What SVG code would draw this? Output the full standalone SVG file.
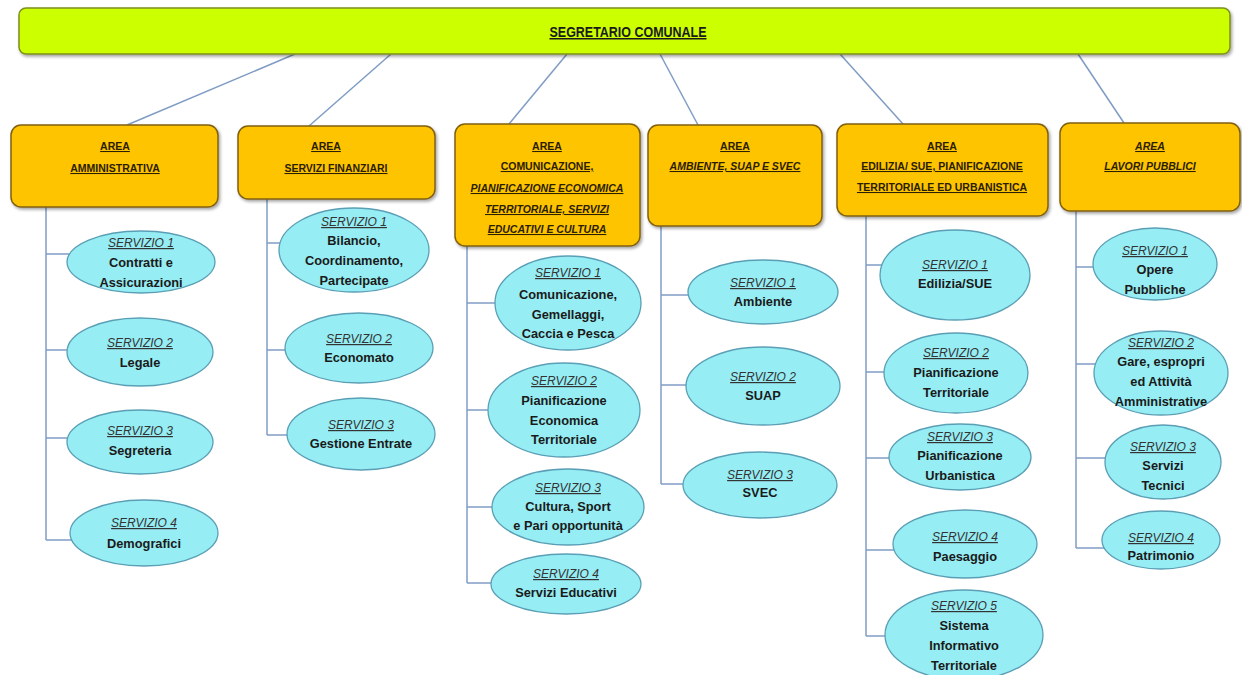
<svg xmlns="http://www.w3.org/2000/svg" width="1242" height="675" viewBox="0 0 1242 675">
<defs>
<filter id="sh" x="-10%" y="-10%" width="120%" height="130%">
<feDropShadow dx="1.5" dy="2" stdDeviation="1.5" flood-color="#000" flood-opacity="0.35"/>
</filter>
<style>
.top{fill:#CCFF00;stroke:#7d8f1e;stroke-width:1.5}
.area{fill:#FFC400;stroke:#806010;stroke-width:1.5}
.srv{fill:#96EDF3;stroke:#5a9fb5;stroke-width:1.3}
.ln{stroke:#7f9cc4;stroke-width:1.5;fill:none}
.tt{font-family:"Liberation Sans",Arial,sans-serif;font-weight:bold;font-size:15px;fill:#1a1a1a;text-decoration:underline;text-anchor:middle}
.at{font-family:"Liberation Sans",Arial,sans-serif;font-weight:bold;font-size:10.5px;fill:#2a2000;text-decoration:underline;text-anchor:middle}
.ai{font-style:italic}
.sh{font-family:"Liberation Sans",Arial,sans-serif;font-style:italic;font-size:12px;fill:#333;text-decoration:underline;text-anchor:middle}
.sb{font-family:"Liberation Sans",Arial,sans-serif;font-weight:bold;font-size:12.8px;fill:#1a1a1a;text-anchor:middle}
</style>
</defs>
<rect width="1242" height="675" fill="#ffffff"/>

<g id="connectors">
<line class="ln" x1="295" y1="54" x2="127" y2="125"/>
<line class="ln" x1="391" y1="54" x2="309" y2="126"/>
<line class="ln" x1="567" y1="54" x2="509" y2="124"/>
<line class="ln" x1="660" y1="54" x2="698" y2="125"/>
<line class="ln" x1="840" y1="54" x2="903" y2="124"/>
<line class="ln" x1="1078" y1="54" x2="1124" y2="123"/>
<polyline class="ln" points="46,207 46,540"/>
<line class="ln" x1="46" y1="254" x2="80" y2="254"/>
<line class="ln" x1="46" y1="350" x2="80" y2="350"/>
<line class="ln" x1="46" y1="438" x2="80" y2="438"/>
<line class="ln" x1="46" y1="540" x2="80" y2="540"/>
<polyline class="ln" points="267,199 267,435"/>
<line class="ln" x1="267" y1="243" x2="295" y2="243"/>
<line class="ln" x1="267" y1="350" x2="295" y2="350"/>
<line class="ln" x1="267" y1="435" x2="297" y2="435"/>
<polyline class="ln" points="467,246 467,583"/>
<line class="ln" x1="467" y1="303" x2="505" y2="303"/>
<line class="ln" x1="467" y1="410" x2="500" y2="410"/>
<line class="ln" x1="467" y1="507" x2="502" y2="507"/>
<line class="ln" x1="467" y1="583" x2="502" y2="583"/>
<polyline class="ln" points="661,226 661,484"/>
<line class="ln" x1="661" y1="295" x2="700" y2="295"/>
<line class="ln" x1="661" y1="385" x2="700" y2="385"/>
<line class="ln" x1="661" y1="484" x2="695" y2="484"/>
<polyline class="ln" points="866,216 866,636"/>
<line class="ln" x1="866" y1="265" x2="895" y2="265"/>
<line class="ln" x1="866" y1="372" x2="895" y2="372"/>
<line class="ln" x1="866" y1="458" x2="900" y2="458"/>
<line class="ln" x1="866" y1="550" x2="905" y2="550"/>
<line class="ln" x1="866" y1="636" x2="895" y2="636"/>
<polyline class="ln" points="1076,211 1076,548"/>
<line class="ln" x1="1076" y1="267" x2="1105" y2="267"/>
<line class="ln" x1="1076" y1="364" x2="1105" y2="364"/>
<line class="ln" x1="1076" y1="458" x2="1115" y2="458"/>
<line class="ln" x1="1076" y1="548" x2="1112" y2="548"/>
</g>

<g id="segretario">
<rect class="top" x="19" y="8" width="1211" height="46" rx="7" filter="url(#sh)"/>
<text class="tt" x="628" y="37" textLength="157" lengthAdjust="spacingAndGlyphs">SEGRETARIO COMUNALE</text>
</g>

<g id="area-amministrativa">
<rect class="area" x="11" y="125" width="207" height="82" rx="10" filter="url(#sh)"/>
<text class="at" x="115" y="150">AREA</text>
<text class="at" x="115" y="172">AMMINISTRATIVA</text>
</g>
<g id="area-finanziari">
<rect class="area" x="238" y="126" width="197" height="73" rx="10" filter="url(#sh)"/>
<text class="at" x="326" y="150">AREA</text>
<text class="at" x="336" y="172">SERVIZI FINANZIARI</text>
</g>
<g id="area-comunicazione">
<rect class="area" x="455" y="124" width="185" height="122" rx="10" filter="url(#sh)"/>
<text class="at" x="547" y="150">AREA</text>
<text class="at" x="547" y="170">COMUNICAZIONE,</text>
<text class="at ai" x="547" y="192">PIANIFICAZIONE ECONOMICA</text>
<text class="at ai" x="547" y="213">TERRITORIALE,  SERVIZI</text>
<text class="at ai" x="547" y="233">EDUCATIVI E CULTURA</text>
</g>
<g id="area-ambiente">
<rect class="area" x="648" y="125" width="174" height="101" rx="10" filter="url(#sh)"/>
<text class="at" x="735" y="150">AREA</text>
<text class="at ai" x="735" y="170">AMBIENTE, SUAP E SVEC</text>
</g>
<g id="area-edilizia">
<rect class="area" x="837" y="124" width="211" height="92" rx="10" filter="url(#sh)"/>
<text class="at" x="942" y="150">AREA</text>
<text class="at" x="942" y="170">EDILIZIA/ SUE,  PIANIFICAZIONE</text>
<text class="at" x="942" y="191">TERRITORIALE ED URBANISTICA</text>
</g>
<g id="area-lavori">
<rect class="area" x="1060" y="123" width="180" height="88" rx="10" filter="url(#sh)"/>
<text class="at ai" x="1150" y="150">AREA</text>
<text class="at ai" x="1150" y="170">LAVORI PUBBLICI</text>
</g>

<g id="amm-s1"><ellipse class="srv" cx="141" cy="262" rx="74" ry="31"/>
<text class="sh" x="141" y="247">SERVIZIO 1</text><text class="sb" x="141" y="267">Contratti e</text><text class="sb" x="141" y="287">Assicurazioni</text></g>
<g id="amm-s2"><ellipse class="srv" cx="140" cy="352" rx="73" ry="34"/>
<text class="sh" x="140" y="347">SERVIZIO 2</text><text class="sb" x="140" y="367">Legale</text></g>
<g id="amm-s3"><ellipse class="srv" cx="140" cy="442" rx="73" ry="32"/>
<text class="sh" x="140" y="435">SERVIZIO 3</text><text class="sb" x="140" y="455">Segreteria</text></g>
<g id="amm-s4"><ellipse class="srv" cx="144" cy="533" rx="74" ry="33"/>
<text class="sh" x="144" y="527">SERVIZIO 4</text><text class="sb" x="144" y="548">Demografici</text></g>

<g id="fin-s1"><ellipse class="srv" cx="354" cy="250" rx="75" ry="42"/>
<text class="sh" x="354" y="226">SERVIZIO 1</text><text class="sb" x="354" y="245">Bilancio,</text><text class="sb" x="354" y="265">Coordinamento,</text><text class="sb" x="354" y="285">Partecipate</text></g>
<g id="fin-s2"><ellipse class="srv" cx="359" cy="348" rx="74" ry="35"/>
<text class="sh" x="359" y="343">SERVIZIO 2</text><text class="sb" x="359" y="362">Economato</text></g>
<g id="fin-s3"><ellipse class="srv" cx="361" cy="434" rx="74" ry="36"/>
<text class="sh" x="361" y="429">SERVIZIO 3</text><text class="sb" x="361" y="448">Gestione Entrate</text></g>

<g id="com-s1"><ellipse class="srv" cx="568" cy="303" rx="73" ry="47"/>
<text class="sh" x="568" y="277">SERVIZIO 1</text><text class="sb" x="568" y="299">Comunicazione,</text><text class="sb" x="568" y="319">Gemellaggi,</text><text class="sb" x="568" y="338">Caccia e Pesca</text></g>
<g id="com-s2"><ellipse class="srv" cx="564" cy="410" rx="76" ry="47"/>
<text class="sh" x="564" y="385">SERVIZIO 2</text><text class="sb" x="564" y="405">Pianificazione</text><text class="sb" x="564" y="425">Economica</text><text class="sb" x="564" y="444">Territoriale</text></g>
<g id="com-s3"><ellipse class="srv" cx="568" cy="507" rx="76" ry="38"/>
<text class="sh" x="568" y="492">SERVIZIO 3</text><text class="sb" x="568" y="511">Cultura, Sport</text><text class="sb" x="568" y="530">e Pari opportunità</text></g>
<g id="com-s4"><ellipse class="srv" cx="566" cy="584" rx="75" ry="30"/>
<text class="sh" x="566" y="578">SERVIZIO 4</text><text class="sb" x="566" y="597">Servizi Educativi</text></g>

<g id="amb-s1"><ellipse class="srv" cx="763" cy="292" rx="75" ry="32"/>
<text class="sh" x="763" y="287">SERVIZIO 1</text><text class="sb" x="763" y="306">Ambiente</text></g>
<g id="amb-s2"><ellipse class="srv" cx="763" cy="386" rx="77" ry="39"/>
<text class="sh" x="763" y="381">SERVIZIO 2</text><text class="sb" x="763" y="400">SUAP</text></g>
<g id="amb-s3"><ellipse class="srv" cx="760" cy="485" rx="77" ry="33"/>
<text class="sh" x="760" y="479">SERVIZIO 3</text><text class="sb" x="760" y="497">SVEC</text></g>

<g id="edi-s1"><ellipse class="srv" cx="955" cy="275" rx="75" ry="45"/>
<text class="sh" x="955" y="269">SERVIZIO 1</text><text class="sb" x="955" y="288">Edilizia/SUE</text></g>
<g id="edi-s2"><ellipse class="srv" cx="956" cy="373" rx="72" ry="40"/>
<text class="sh" x="956" y="357">SERVIZIO 2</text><text class="sb" x="956" y="377">Pianificazione</text><text class="sb" x="956" y="397">Territoriale</text></g>
<g id="edi-s3"><ellipse class="srv" cx="960" cy="457" rx="71" ry="33"/>
<text class="sh" x="960" y="441">SERVIZIO 3</text><text class="sb" x="960" y="460">Pianificazione</text><text class="sb" x="960" y="480">Urbanistica</text></g>
<g id="edi-s4"><ellipse class="srv" cx="965" cy="544" rx="72" ry="34"/>
<text class="sh" x="965" y="541">SERVIZIO 4</text><text class="sb" x="965" y="561">Paesaggio</text></g>
<g id="edi-s5"><ellipse class="srv" cx="964" cy="635" rx="79" ry="45"/>
<text class="sh" x="964" y="610">SERVIZIO 5</text><text class="sb" x="964" y="630">Sistema</text><text class="sb" x="964" y="650">Informativo</text><text class="sb" x="964" y="670">Territoriale</text></g>

<g id="lav-s1"><ellipse class="srv" cx="1155" cy="264" rx="62" ry="36"/>
<text class="sh" x="1155" y="255">SERVIZIO 1</text><text class="sb" x="1155" y="274">Opere</text><text class="sb" x="1155" y="294">Pubbliche</text></g>
<g id="lav-s2"><ellipse class="srv" cx="1161" cy="373" rx="67" ry="42"/>
<text class="sh" x="1161" y="347">SERVIZIO 2</text><text class="sb" x="1161" y="366">Gare, espropri</text><text class="sb" x="1161" y="386">ed Attività</text><text class="sb" x="1161" y="406">Amministrative</text></g>
<g id="lav-s3"><ellipse class="srv" cx="1163" cy="462" rx="58" ry="37"/>
<text class="sh" x="1163" y="451">SERVIZIO 3</text><text class="sb" x="1163" y="470">Servizi</text><text class="sb" x="1163" y="490">Tecnici</text></g>
<g id="lav-s4"><ellipse class="srv" cx="1161" cy="540" rx="59" ry="29"/>
<text class="sh" x="1161" y="542">SERVIZIO 4</text><text class="sb" x="1161" y="560">Patrimonio</text></g>
</svg>
